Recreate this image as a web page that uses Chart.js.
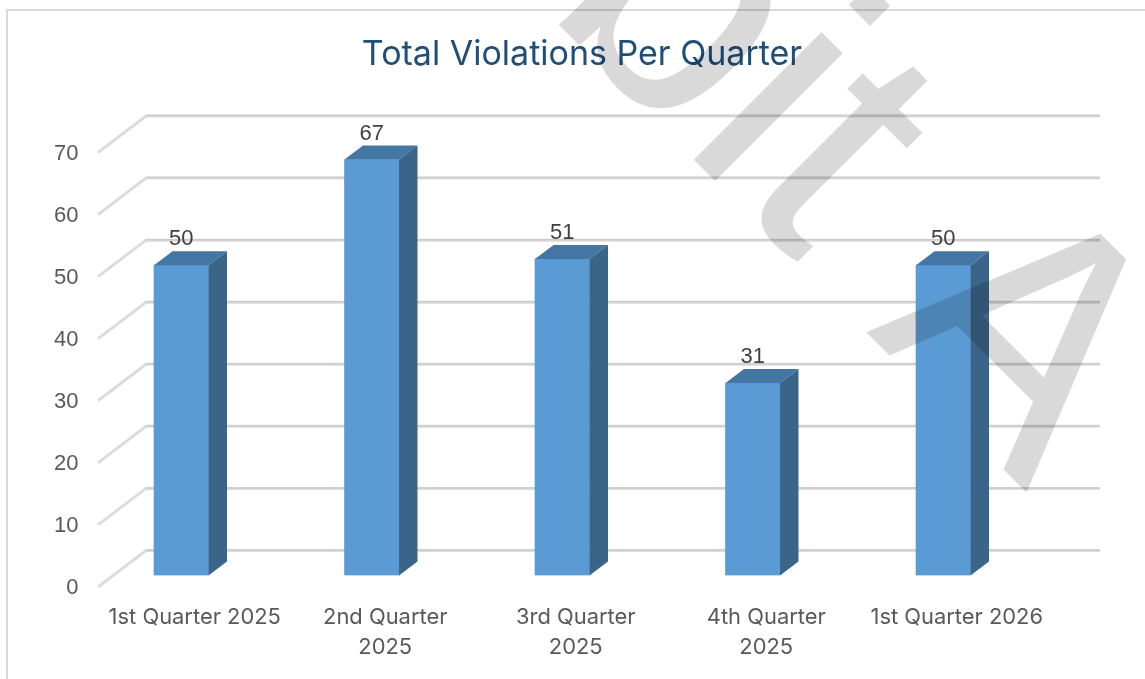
<!DOCTYPE html>
<html>
<head>
<meta charset="utf-8">
<title>Total Violations Per Quarter</title>
<script src="https://cdn.jsdelivr.net/npm/chart.js@4"></script>
<style>
    html, body { margin: 0; padding: 0; background: #fff; overflow: hidden; }
    #wrap { width: 1145px; height: 679px; }
</style>
</head>
<body>
<div id="wrap"><canvas id="chart" width="1145" height="679"></canvas></div>
<script>
const categories = ['1st Quarter 2025', ['2nd Quarter', '2025'], ['3rd Quarter', '2025'], ['4th Quarter', '2025'], '1st Quarter 2026'];
const violations = [50, 67, 51, 31, 50];
const yTicks = [0, 10, 20, 30, 40, 50, 60, 70];

const FONT = 'Inter, "Noto Sans", sans-serif';
const NUM_FONT = '"Liberation Sans", Arial, sans-serif';
const GRID_DEPTH = { x: 48, y: -36.5 };
const GRID_SHIFT_Y = -1.5;
const BAR_DEPTH = { x: 18.5, y: -14 };
const BAR_SHIFT = { x: -13.5, y: -12.5 };

// frame and the receding floor/wall lines, scale driven
const backdrop = {
    id: 'backdrop',
    beforeDatasetsDraw(chart) {
        const { ctx, scales: { y }, chartArea } = chart;
        ctx.save();
        ctx.strokeStyle = '#d9d9d9';
        ctx.lineWidth = 2;
        ctx.beginPath();
        ctx.moveTo(7, 679);
        ctx.lineTo(7, 10);
        ctx.lineTo(1145, 10);
        ctx.stroke();
        const x0 = chartArea.left - 1.5;
        yTicks.forEach(v => {
            const py = y.getPixelForValue(v) + GRID_SHIFT_Y;
            ctx.strokeStyle = '#dcdcdc';
            ctx.lineWidth = 3;
            ctx.beginPath();
            ctx.moveTo(x0, py + 0.5);
            ctx.lineTo(x0 + GRID_DEPTH.x, py + GRID_DEPTH.y + 0.5);
            ctx.lineTo(1100, py + GRID_DEPTH.y + 0.5);
            ctx.stroke();
            ctx.strokeStyle = '#cccccc';
            ctx.lineWidth = 1.5;
            ctx.beginPath();
            ctx.moveTo(x0 + GRID_DEPTH.x, py + GRID_DEPTH.y);
            ctx.lineTo(1100, py + GRID_DEPTH.y);
            ctx.stroke();
        });
        ctx.restore();
    }
};

// moves the bars into the middle of the floor and adds their top and side faces
const bars3d = {
    id: 'bars3d',
    beforeDatasetDraw(chart) {
        chart.ctx.save();
        chart.ctx.translate(BAR_SHIFT.x, BAR_SHIFT.y);
    },
    afterDatasetDraw(chart, args) {
        const { ctx } = chart;
        args.meta.data.forEach((bar, i) => {
            const { x, y, base, width } = bar.getProps(['x', 'y', 'base', 'width'], true);
            const l = x - width / 2;
            const r = x + width / 2;
            ctx.fillStyle = '#4476a3';
            ctx.beginPath();
            ctx.moveTo(l, y);
            ctx.lineTo(l + BAR_DEPTH.x, y + BAR_DEPTH.y);
            ctx.lineTo(r + BAR_DEPTH.x, y + BAR_DEPTH.y);
            ctx.lineTo(r, y);
            ctx.closePath();
            ctx.fill();
            ctx.fillStyle = '#3a6488';
            ctx.beginPath();
            ctx.moveTo(r, y);
            ctx.lineTo(r + BAR_DEPTH.x, y + BAR_DEPTH.y);
            ctx.lineTo(r + BAR_DEPTH.x, base + BAR_DEPTH.y);
            ctx.lineTo(r, base);
            ctx.closePath();
            ctx.fill();
            ctx.fillStyle = '#404040';
            ctx.font = '22px ' + NUM_FONT;
            ctx.textAlign = 'center';
            ctx.textBaseline = 'middle';
            ctx.fillText(String(violations[i]), x, y + BAR_DEPTH.y - 12);
        });
        ctx.restore();
    }
};

const watermark = {
    id: 'watermark',
    afterDraw(chart) {
        const { ctx } = chart;
        ctx.save();
        ctx.translate(1027, 493);
        ctx.rotate(Math.PI / 4);
        ctx.font = '342px "Liberation Sans"';
        ctx.textAlign = 'right';
        ctx.textBaseline = 'alphabetic';
        ctx.fillStyle = 'rgba(0,0,0,0.15)';
        ctx.fillText('bit A', 0, 0);
        ctx.restore();
    }
};

// the title sits right of the plot centre
const titleNudge = {
    id: 'titleNudge',
    afterLayout(chart) {
        chart.titleBlock.left += 55.5;
        chart.titleBlock.right += 55.5;
    }
};

new Chart(document.getElementById('chart'), {
    type: 'bar',
    data: {
        labels: categories,
        datasets: [{
            label: 'Violations',
            data: violations,
            backgroundColor: '#5b9bd5',
            barThickness: 54.5
        }]
    },
    plugins: [backdrop, bars3d, titleNudge, watermark],
    options: {
        responsive: false,
        animation: false,
        layout: { padding: { left: 1, right: 93, top: 0, bottom: 0 } },
        plugins: {
            legend: { display: false },
            tooltip: { enabled: false },
            title: {
                display: true,
                text: 'Total Violations Per Quarter',
                color: '#1f4e79',
                font: { family: FONT, size: 34, weight: 'normal', lineHeight: 1.2 },
                padding: { top: 34, bottom: 78.7 }
            }
        },
        scales: {
            x: {
                grid: { display: false, drawTicks: false },
                border: { display: false },
                afterFit(s) { s.height = 91; },
                ticks: {
                    color: '#595959',
                    font: { family: FONT, size: 21.9, lineHeight: 1.37 },
                    padding: 14,
                    maxRotation: 0,
                    autoSkip: false
                }
            },
            y: {
                min: 0,
                max: 70,
                grid: { display: false, drawTicks: false },
                border: { display: false },
                afterFit(s) { s.width = 98.5; },
                afterBuildTicks(s) { s.ticks = yTicks.map(value => ({ value })); },
                ticks: {
                    color: '#595959',
                    font: { family: NUM_FONT, size: 22 },
                    padding: 21
                }
            }
        }
    }
});
</script>
</body>
</html>
